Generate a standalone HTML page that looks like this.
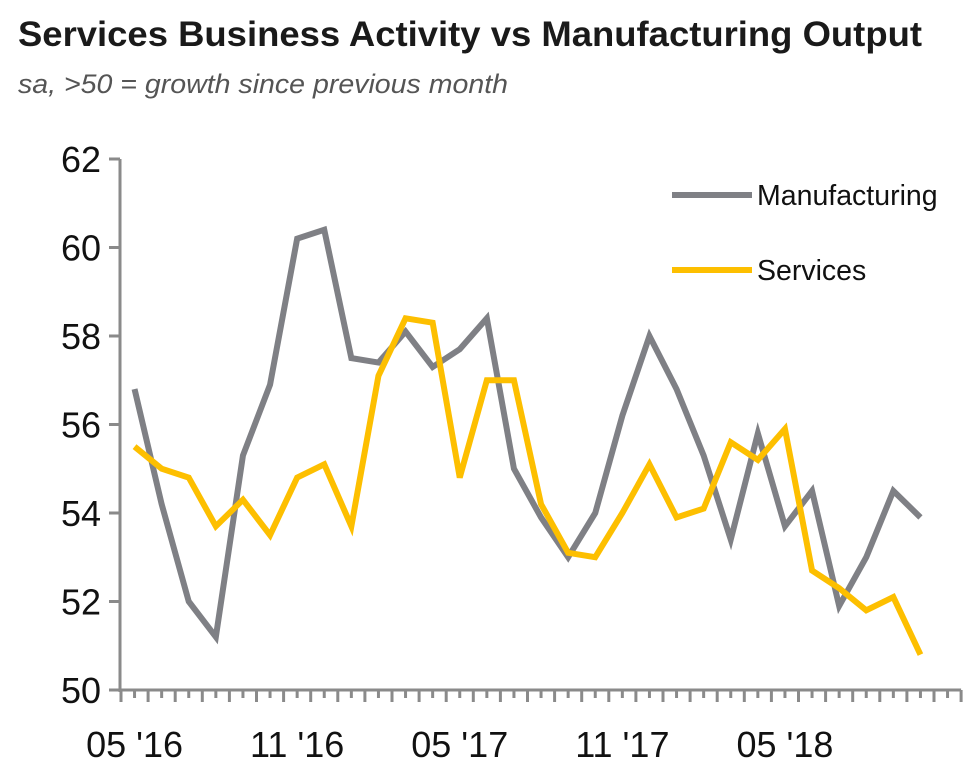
<!DOCTYPE html>
<html><head><meta charset="utf-8"><style>
body{margin:0;background:#fff;width:980px;height:780px;overflow:hidden}
svg{display:block}
</style></head><body>
<svg id="c" width="980" height="780">
<text x="18" y="46" font-family="Liberation Sans, sans-serif" font-weight="bold" font-size="35" textLength="904" lengthAdjust="spacingAndGlyphs" fill="#1a1a1a">Services Business Activity vs Manufacturing Output</text>
<text x="18" y="93" font-family="Liberation Sans, sans-serif" font-style="italic" font-size="27" textLength="490" lengthAdjust="spacingAndGlyphs" fill="#555">sa, &gt;50 = growth since previous month</text>
<g id="axes"></g><g id="series"></g>
<g>
<line x1="672" y1="195" x2="752" y2="195" stroke="#7f8085" stroke-width="6"/>
<text x="757" y="205" font-family="Liberation Sans, sans-serif" font-size="28.5" fill="#111">Manufacturing</text>
<line x1="672" y1="270" x2="752" y2="270" stroke="#fdbf00" stroke-width="6"/>
<text x="757" y="280" font-family="Liberation Sans, sans-serif" font-size="28.5" fill="#111">Services</text>
</g>
</svg>
<script>
const yTicks=[50,52,54,56,58,60,62];
const xLabels=["05 '16","11 '16","05 '17","11 '17","05 '18"];
const xLabelIdx=[0,6,12,18,24];
const manufacturing=[56.8,54.2,52.0,51.2,55.3,56.9,60.2,60.4,57.5,57.4,58.1,57.3,57.7,58.4,55.0,53.9,53.0,54.0,56.2,58.0,56.8,55.3,53.4,55.8,53.7,54.5,51.9,53.0,54.5,53.9];
const services=[55.5,55.0,54.8,53.7,54.3,53.5,54.8,55.1,53.7,57.1,58.4,58.3,54.8,57.0,57.0,54.2,53.1,53.0,54.0,55.1,53.9,54.1,55.6,55.2,55.9,52.7,52.3,51.8,52.1,50.8];
const NS='http://www.w3.org/2000/svg';
const x0=121,step=27.1,nBins=31;
const X=i=>x0+step*(i+0.5);
const Y=v=>690-(v-50)*44.25;
const ax=document.getElementById('axes'),sg=document.getElementById('series');
function mk(tag,at,parent){const e=document.createElementNS(NS,tag);for(const k in at)e.setAttribute(k,at[k]);parent.appendChild(e);return e;}
const ya=mk('line',{x1:120,y1:Y(62),x2:120,y2:692,stroke:'#8a8a8a','stroke-width':3},ax);


const xa=mk('line',{x1:109,y1:690,x2:x0+step*nBins,y2:690,stroke:'#8a8a8a','stroke-width':3},ax);


yTicks.forEach(v=>{
 const t=mk('line',{x1:109,y1:Y(v),x2:120,y2:Y(v),stroke:'#8a8a8a','stroke-width':3},ax);
 
 
 const l=mk('text',{x:101,y:Y(v)+13,'text-anchor':'end','font-family':'Liberation Sans, sans-serif','font-size':36,fill:'#111'},ax);
 l.textContent=v;
 
 
});
for(let i=0;i<=nBins;i++){
 const t=mk('line',{x1:x0+step*i,y1:690,x2:x0+step*i,y2:702,stroke:'#8a8a8a','stroke-width':3},ax);
 
 
 if(i<nBins){const s=mk('line',{x1:x0+step*(i+0.5),y1:690,x2:x0+step*(i+0.5),y2:698,stroke:'#8a8a8a','stroke-width':3},ax);
 
 }
}
xLabels.forEach((s,k)=>{
 const l=mk('text',{x:X(xLabelIdx[k]),y:757,'text-anchor':'middle','font-family':'Liberation Sans, sans-serif','font-size':36,fill:'#111'},ax);
 l.textContent=s;
 
 
});
function line(arr,col,name){
 const p=mk('polyline',{points:arr.map((v,i)=>X(i)+','+Y(v)).join(' '),fill:'none',stroke:col,'stroke-width':6,'stroke-linejoin':'miter'},sg);
 
 
}
line(manufacturing,'#7f8085','manufacturing-line');
line(services,'#fdbf00','services-line');
</script>
</body></html>
